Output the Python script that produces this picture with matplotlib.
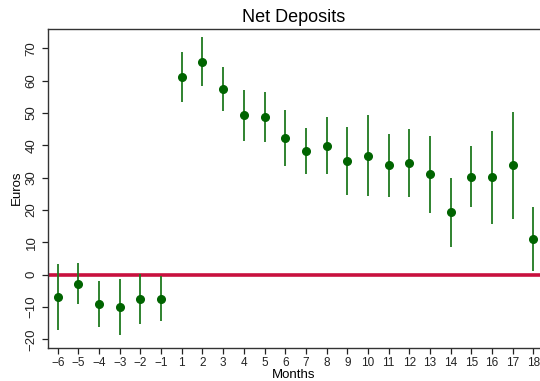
import numpy as np
import matplotlib.pyplot as plt

plt.rcParams['font.family'] = ['Liberation Sans', 'DejaVu Sans']

months = [-6, -5, -4, -3, -2, -1, 1, 2, 3, 4, 5, 6, 7, 8, 9, 10, 11, 12, 13, 14, 15, 16, 17, 18]
est = [-6.9, -2.8, -9.1, -10.0, -7.5, -7.5, 61.1, 65.8, 57.5, 49.3, 48.8, 42.2, 38.2, 39.9,
       35.3, 36.8, 33.8, 34.5, 31.0, 19.3, 30.3, 30.1, 33.8, 11.0]
upper = [3.3, 3.6, -2.1, -1.3, 0.1, -0.4, 68.9, 73.4, 64.4, 57.0, 56.5, 50.9, 45.5, 48.8,
         45.8, 49.3, 43.5, 45.1, 42.9, 29.9, 39.8, 44.4, 50.4, 20.8]
lower = [-17.2, -9.1, -16.1, -18.6, -15.2, -14.4, 53.3, 58.4, 50.6, 41.5, 41.1, 33.6, 31.0, 31.0,
         24.7, 24.2, 24.1, 24.0, 19.2, 8.7, 20.8, 15.8, 17.2, 1.2]
yticks = [-20, -10, 0, 10, 20, 30, 40, 50, 60, 70]


def lab(v):
    return str(v).replace('-', '\u2212')


x = np.arange(len(months))
est = np.array(est)
upper = np.array(upper)
lower = np.array(lower)

fig = plt.figure(figsize=(5.4, 3.81), dpi=100)
ax = fig.add_axes([0.0889, 0.0874, 0.9111, 0.8373])

ax.axhline(0, color='#c8103e', linewidth=2.6, zorder=1)
ax.vlines(x, lower, upper, color='#1f7a1f', linewidth=1.3, zorder=2)
ax.plot(x, est, 'o', color='#006400', markersize=5.5, zorder=3)

ax.set_xlim(-0.47, 23.32)
ax.set_ylim(-22.6, 76.1)
ax.set_xticks(x)
ax.set_xticklabels([lab(m) for m in months], fontsize=8.5)
ax.set_yticks(yticks)
ax.set_yticklabels([lab(v) for v in yticks], fontsize=9.5, rotation=90, va='center')
ax.tick_params(direction='out', length=4.5, width=0.9, colors='#222222')
ax.tick_params(axis='x', pad=2)
ax.tick_params(axis='y', pad=3)

ax.spines['right'].set_visible(False)
for s in ['left', 'bottom', 'top']:
    ax.spines[s].set_linewidth(1.0)
    ax.spines[s].set_color('#333333')

ax.set_title('Net Deposits', fontsize=13, pad=5)
ax.set_xlabel('Months', fontsize=9.5, labelpad=0)
ax.set_ylabel('Euros', fontsize=9.5, labelpad=2)

plt.savefig('out.png', dpi=100)
plt.close(fig)
